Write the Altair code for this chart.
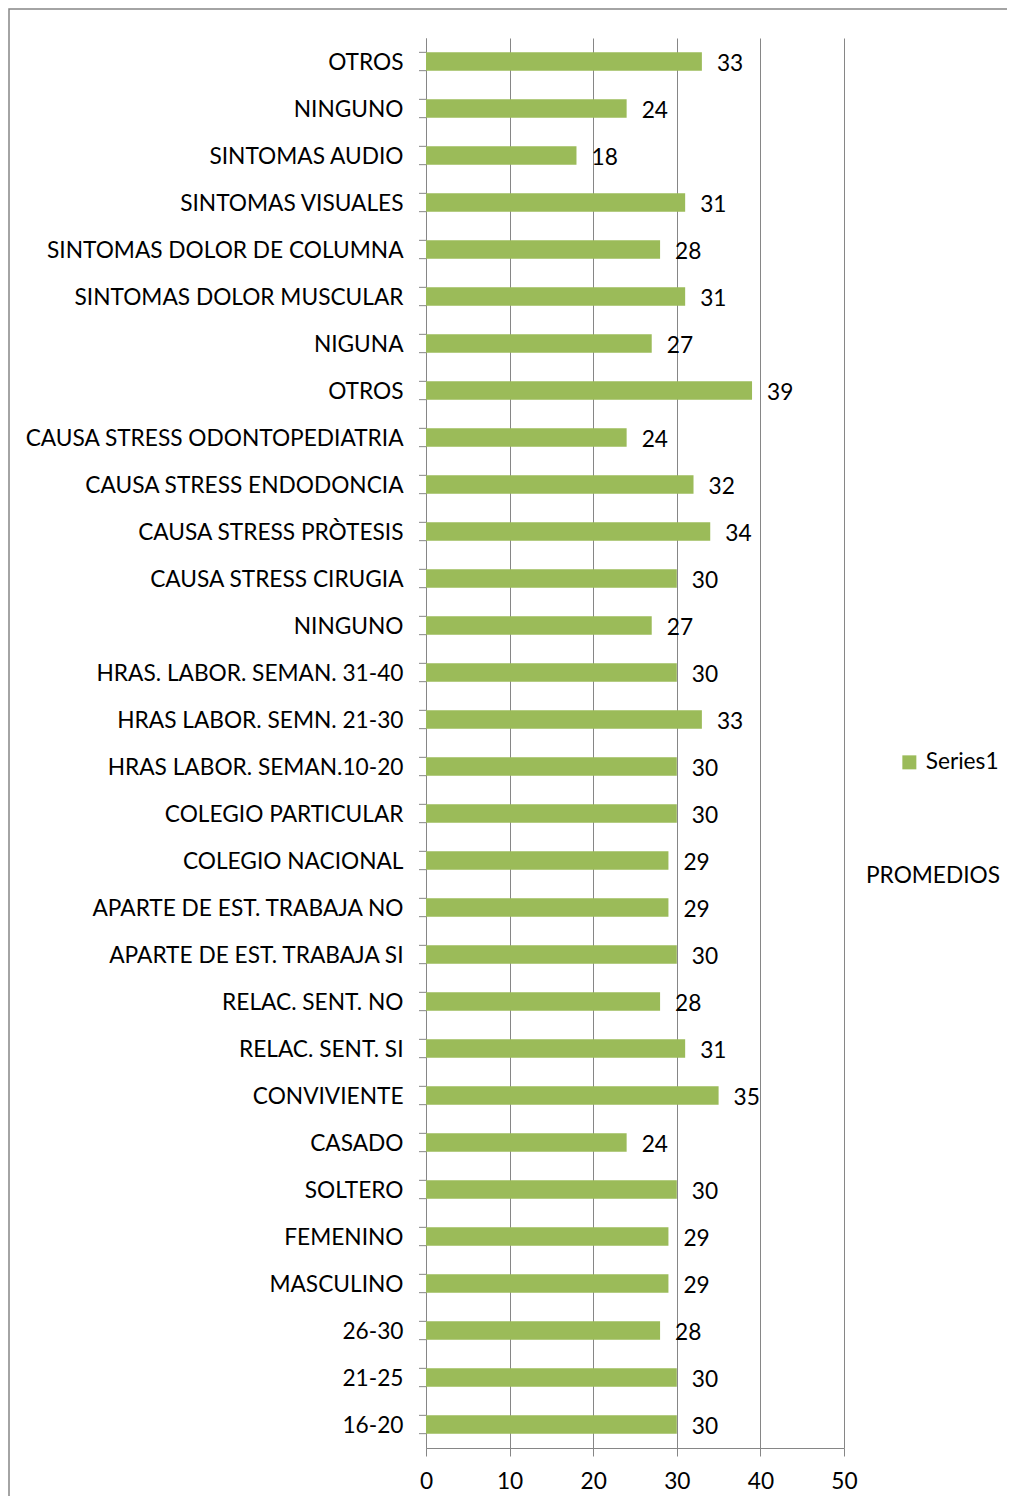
import altair as alt
import pandas as pd

categories = [
    "OTROS", "NINGUNO", "SINTOMAS AUDIO", "SINTOMAS VISUALES",
    "SINTOMAS DOLOR  DE COLUMNA", "SINTOMAS DOLOR MUSCULAR", "NIGUNA", "OTROS",
    "CAUSA STRESS ODONTOPEDIATRIA", "CAUSA STRESS ENDODONCIA", "CAUSA STRESS PRÒTESIS",
    "CAUSA STRESS CIRUGIA", "NINGUNO", "HRAS. LABOR. SEMAN. 31-40",
    "HRAS LABOR. SEMN. 21-30", "HRAS LABOR. SEMAN.10-20", "COLEGIO PARTICULAR",
    "COLEGIO NACIONAL", "APARTE DE EST. TRABAJA NO", "APARTE DE EST. TRABAJA SI",
    "RELAC. SENT. NO", "RELAC. SENT. SI", "CONVIVIENTE", "CASADO", "SOLTERO",
    "FEMENINO", "MASCULINO", "26-30", "21-25", "16-20",
]
values = [33, 24, 18, 31, 28, 31, 27, 39, 24, 32, 34, 30, 27, 30, 33, 30, 30,
          29, 29, 30, 28, 31, 35, 24, 30, 29, 29, 28, 30, 30]
series_name = "Series1"
x_ticks = [0, 10, 20, 30, 40, 50]

keys = [f"{i:02d}|{c}" for i, c in enumerate(categories)]
df = pd.DataFrame({"key": keys, "value": values, "series": series_name})

FONT = "Lato"
FS = 22.7
GREEN = "#9BBB59"
GRAY = "#868686"

W, H = 418, 1410

y_enc = alt.Y("key:N", sort=keys,
              scale=alt.Scale(paddingInner=0.61, paddingOuter=0.305),
              axis=alt.Axis(title=None, ticks=False, labelPadding=23,
                            labelOffset=1,
                            labelExpr="split(datum.label, '|')[1]",
                            domain=True, domainColor=GRAY,
                            labelFont=FONT, labelFontSize=FS, labelColor="#000",
                            labelLimit=500))

base = alt.Chart(df)

bars = base.mark_bar().encode(
    x=alt.X("value:Q", scale=alt.Scale(domain=[0, 50], nice=False),
            axis=alt.Axis(title=None, values=x_ticks, grid=True, gridColor=GRAY,
                          gridOpacity=1, domainColor=GRAY, tickColor=GRAY,
                          tickSize=8, labelPadding=14, labelFlush=False,
                          labelFont=FONT, labelFontSize=FS, labelColor="#000")),
    y=y_enc,
    color=alt.Color("series:N", scale=alt.Scale(range=[GREEN]),
                    legend=alt.Legend(title=None, orient="none", legendX=472,
                                      legendY=713, symbolType="square",
                                      symbolSize=196, symbolStrokeWidth=0,
                                      labelFont=FONT, labelFontSize=FS,
                                      labelColor="#000", labelOffset=5,
                                      padding=0)),
)

texts = base.mark_text(align="left", dx=15, dy=2, font=FONT, fontSize=FS,
                       color="#000").encode(
    x="value:Q", y=alt.Y("key:N", sort=keys), text="value:Q")

tick_top = base.mark_rule(color=GRAY).encode(
    y=alt.Y("key:N", sort=keys, bandPosition=0),
    x=alt.value(-7), x2=alt.value(0))
tick_bot = base.mark_rule(color=GRAY).encode(
    y=alt.Y("key:N", sort=keys, bandPosition=1),
    x=alt.value(-7), x2=alt.value(0))

promedios = alt.Chart(pd.DataFrame({"t": ["PROMEDIOS"]})).mark_text(
    align="center", baseline="middle", font=FONT, fontSize=FS, color="#000"
).encode(text="t:N", x=alt.value(507), y=alt.value(838))

border = alt.Chart(pd.DataFrame({"a": [0]})).mark_rect(
    fill=None, stroke=GRAY, strokeWidth=1.5
).encode(x=alt.value(-417), x2=alt.value(700), y=alt.value(-29), y2=alt.value(1600))

chart = alt.layer(border, bars, texts, tick_top, tick_bot, promedios).properties(
    width=W, height=H,
    autosize=alt.AutoSizeParams(type="none"),
    padding={"left": 418, "top": 30, "right": 163, "bottom": 48},
).configure_view(stroke=None)

chart.save("out.html", embed_options={"renderer": "svg", "actions": False})
